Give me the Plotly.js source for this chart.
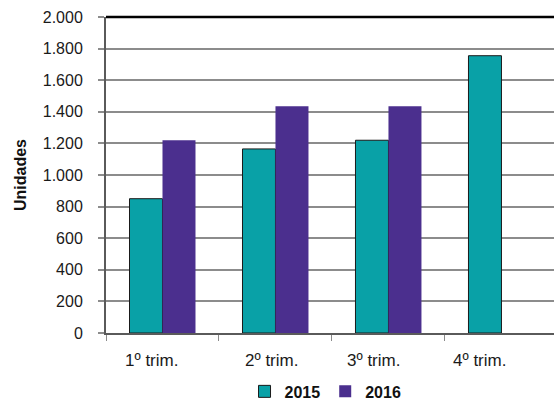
<!DOCTYPE html>
<html>
<head>
<meta charset="utf-8">
<script src="https://cdn.plot.ly/plotly-3.0.1.min.js"></script>
<style>html,body{margin:0;padding:0;background:#fff;}#chart{width:554px;height:403px;}</style>
</head>
<body>
<div id="chart"></div>
<script>
const categories = ["1º trim.", "2º trim.", "3º trim.", "4º trim."];
const values2015 = [850, 1165, 1220, 1755];
const values2016 = [1220, 1435, 1435, null];
const seriesNames = ["2015", "2016"];
const yTicks = [0, 200, 400, 600, 800, 1000, 1200, 1400, 1600, 1800, 2000];

const FONT = "Liberation Sans, Arial, Helvetica, sans-serif";
const labelShifts = [-11, -4, -15, -22];

const data = [
  {
    type: "bar", name: seriesNames[0], x: categories, y: values2015,
    marker: {color: "#09A1A7", line: {color: "#1a1a1a", width: 1}}
  },
  {
    type: "bar", name: seriesNames[1], x: categories, y: values2016,
    marker: {color: "#4B2F8E", line: {width: 0}}
  }
];

const annotations = categories.map((c, i) => ({
  xref: "x", yref: "paper", x: c, y: 0, xanchor: "center", yanchor: "middle",
  yshift: -27, xshift: labelShifts[i], showarrow: false, text: c,
  font: {family: FONT, size: 17, color: "#1a1a1a"}
}));

const layout = {
  width: 554, height: 403,
  margin: {l: 106, r: 0, t: 17, b: 70, pad: 0, autoexpand: false},
  paper_bgcolor: "#fff", plot_bgcolor: "#fff",
  font: {family: FONT, size: 16, color: "#1a1a1a"},
  separators: ",.",
  barmode: "group",
  bargap: 0.416,
  bargroupgap: 0,
  showlegend: true,
  legend: {
    orientation: "h", x: 0.49, xanchor: "center", y: -0.185, yanchor: "middle",
    font: {family: FONT, size: 16, color: "#111", weight: "bold"},
    itemwidth: 30, traceorder: "normal"
  },
  xaxis: {
    type: "category",
    range: [-0.5, 3.465],
    automargin: false,
    showgrid: false,
    showline: true, linecolor: "#5a5a5a", linewidth: 2,
    ticks: "outside", tickson: "boundaries", ticklen: 6, tickcolor: "#8a8a8a", tickwidth: 1,
    showticklabels: false,
    zeroline: false, fixedrange: true
  },
  yaxis: {
    range: [0, 2000],
    automargin: false,
    tickvals: yTicks,
    tickformat: ",d",
    showgrid: true, gridcolor: "#8c8c8c", gridwidth: 2,
    showline: true, linecolor: "#5a5a5a", linewidth: 2,
    ticks: "outside", ticklen: 6, tickcolor: "#8c8c8c", tickwidth: 2,
    ticklabelstandoff: 12,
    tickfont: {family: FONT, size: 16, color: "#1a1a1a"},
    zeroline: false,
    title: {text: "Unidades", font: {family: FONT, size: 16, color: "#111", weight: "bold"}, standoff: 12},
    fixedrange: true
  },
  annotations: annotations,
  shapes: [
    {type: "line", xref: "paper", yref: "paper", x0: 0, x1: 1, y0: 1, y1: 1,
     line: {color: "#000", width: 2.5}}
  ]
};

Plotly.newPlot("chart", data, layout, {displayModeBar: false, staticPlot: true});
</script>
</body>
</html>
